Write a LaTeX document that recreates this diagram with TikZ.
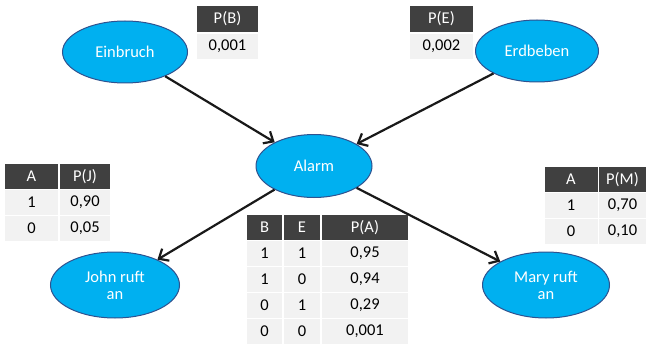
\documentclass[tikz,border=0pt]{standalone}
\usepackage{fontspec}
\setmainfont{Carlito}
\usetikzlibrary{arrows.meta,shapes.geometric}
\definecolor{nodefill}{HTML}{00B0F0}
\definecolor{nodeline}{HTML}{2F528F}
\definecolor{hdfill}{HTML}{404040}
\definecolor{rowfill}{HTML}{F2F2F2}
\tikzset{
  bn/.style={ellipse, draw=nodeline, line width=1pt, fill=nodefill, text=white, font=\fontsize{16.5}{18}\selectfont, align=center, inner sep=0pt},
  hd/.style={fill=hdfill, text=white, font=\fontsize{16.5}{18}\selectfont, inner sep=0pt, anchor=center},
  rw/.style={fill=rowfill, text=black, font=\fontsize{16.5}{18}\selectfont, inner sep=0pt, anchor=center},
  edge/.style={line width=2.2pt, draw=black!90, -{Straight Barb[length=8pt,width=14pt,line width=2.2pt]}}
}
\begin{document}
\begin{tikzpicture}[x=1pt,y=-1pt]
\useasboundingbox (0,0) rectangle (648,345);
% nodes
\node[bn, minimum width=125pt, minimum height=62pt] (B) at (125,52) {Einbruch};
\node[bn, minimum width=123pt, minimum height=62pt] (E) at (537,51) {Erdbeben};
\node[bn, minimum width=116pt, minimum height=63pt] (A) at (314,166) {Alarm};
\node[bn, minimum width=129pt, minimum height=66pt] (J) at (115,285) {John ruft\\[-1pt]an};
\node[bn, minimum width=127pt, minimum height=66pt] (M) at (546,285) {Mary ruft\\[-1pt]an};
% edges
\draw[edge] (B) -- (A);
\draw[edge] (E) -- (A);
\draw[edge] (A) -- (J);
\draw[edge] (A) -- (M);
% table P(B)
\node[hd, minimum width=61pt, minimum height=26pt] (tBh) at (227.5,19) {P(B)};
\node[rw, minimum width=61pt, minimum height=25pt] (tBr) at (227.5,46.5) {0,001};
% table P(E)
\node[hd, minimum width=63pt, minimum height=26pt] (tEh) at (441.5,19) {P(E)};
\node[rw, minimum width=63pt, minimum height=25pt] (tEr) at (441.5,46.5) {0,002};
% table P(J)
\node[hd, minimum width=53pt, minimum height=25pt] (tJh1) at (31.5,176.5) {A};
\node[hd, minimum width=50pt, minimum height=25pt] (tJh2) at (85,176.5) {P(J)};
\node[rw, minimum width=53pt, minimum height=25pt] (tJa1) at (31.5,202.5) {1};
\node[rw, minimum width=50pt, minimum height=25pt] (tJb1) at (85,202.5) {0,90};
\node[rw, minimum width=53pt, minimum height=25pt] (tJa2) at (31.5,228.5) {0};
\node[rw, minimum width=50pt, minimum height=25pt] (tJb2) at (85,228.5) {0,05};
% table P(M)
\node[hd, minimum width=53pt, minimum height=25pt] (tMh1) at (571,179.5) {A};
\node[hd, minimum width=47pt, minimum height=25pt] (tMh2) at (622.5,179.5) {P(M)};
\node[rw, minimum width=53pt, minimum height=25pt] (tMa1) at (571,205.5) {1};
\node[rw, minimum width=47pt, minimum height=25pt] (tMb1) at (622.5,205.5) {0,70};
\node[rw, minimum width=53pt, minimum height=25pt] (tMa2) at (571,231.5) {0};
\node[rw, minimum width=47pt, minimum height=25pt] (tMb2) at (622.5,231.5) {0,10};
% table P(A)
\node[hd, minimum width=35pt, minimum height=25pt] (tAh1) at (264.5,227.5) {B};
\node[hd, minimum width=36pt, minimum height=25pt] (tAh2) at (302,227.5) {E};
\node[hd, minimum width=86pt, minimum height=25pt] (tAh3) at (365,227.5) {P(A)};
\foreach \i/\b/\e/\p in {1/1/1/0{,}95, 2/1/0/0{,}94, 3/0/1/0{,}29, 4/0/0/0{,}001} {
  \node[rw, minimum width=35pt, minimum height=25pt] (tAb\i) at (264.5,227.5+26*\i) {\b};
  \node[rw, minimum width=36pt, minimum height=25pt] (tAe\i) at (302,227.5+26*\i) {\e};
  \node[rw, minimum width=86pt, minimum height=25pt] (tAp\i) at (365,227.5+26*\i) {\p};
}
\end{tikzpicture}
\end{document}
